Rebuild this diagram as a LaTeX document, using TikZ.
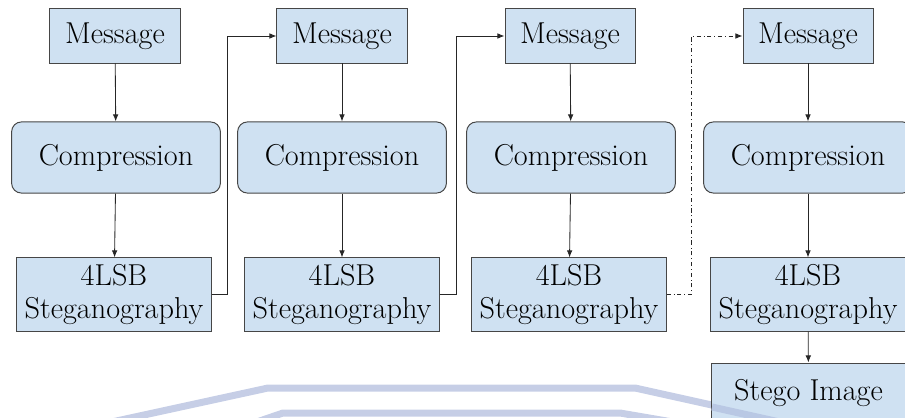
\documentclass[tikz,border=0pt]{standalone}
\usetikzlibrary{arrows.meta}
\definecolor{boxfill}{RGB}{207,225,242}
\definecolor{boxline}{RGB}{70,70,70}
\definecolor{wmark}{RGB}{198,206,230}
\tikzset{
  msgbox/.style={rectangle, draw=boxline, fill=boxfill, line width=0.7pt, minimum width=3.25cm, minimum height=1.35cm, inner sep=0pt, font=\fontsize{21.5}{24}\selectfont},
  compbox/.style={msgbox, rounded corners=0.25cm, minimum width=5.22cm, minimum height=1.78cm},
  stegbox/.style={msgbox, minimum width=4.85cm, minimum height=1.83cm, align=center},
  link/.style={line width=0.6pt, draw=black!85, -{Latex[length=5pt,width=4pt]}},
  wband/.style={line width=0.175cm, draw=wmark, line join=round},
}
\begin{document}
\begin{tikzpicture}[x=0.025cm, y=-0.025cm]
\useasboundingbox (0,0) rectangle (905,418);
\draw[wband] (98,425) -- (268,388) -- (635,388) -- (802,425);
\draw[wband] (248,425) -- (283,413) -- (620,413) -- (690,425);
\node[msgbox] (m1) at (115,36) {Message};
\node[msgbox] (m2) at (342,36) {Message};
\node[msgbox] (m3) at (570,36) {Message};
\node[msgbox] (m4) at (808,36) {Message};
\node[compbox] (c1) at (116,157.5) {Compression};
\node[compbox] (c2) at (342,157.5) {Compression};
\node[compbox] (c3) at (571,157.5) {Compression};
\node[compbox] (c4) at (808,157.5) {Compression};
\node[stegbox] (s1) at (114,294.5) {4LSB\\Steganography};
\node[stegbox] (s2) at (342,294.5) {4LSB\\Steganography};
\node[stegbox] (s3) at (569,294.5) {4LSB\\Steganography};
\node[stegbox] (s4) at (808,294.5) {4LSB\\Steganography};
\node[msgbox, minimum width=4.83cm, minimum height=1.5cm] (img) at (808.5,393) {Stego Image};
\draw[link] (m1) -- (c1);
\draw[link] (c1) -- (s1);
\draw[link] (m2) -- (c2);
\draw[link] (c2) -- (s2);
\draw[link] (m3) -- (c3);
\draw[link] (c3) -- (s3);
\draw[link] (m4) -- (c4);
\draw[link] (c4) -- (s4);
\draw[link] (s4) -- (img);
\draw[link] (s1.east) -- ++(16,0) |- (m2.west);
\draw[link] (s2.east) -- ++(17,0) |- (m3.west);
\draw[link, dash dot] (s3.east) -- ++(25,0) |- (m4.west);
\draw[wband, draw={rgb,255:red,185;green,200;blue,228}] (712,407) -- (802,427);
\end{tikzpicture}
\end{document}
